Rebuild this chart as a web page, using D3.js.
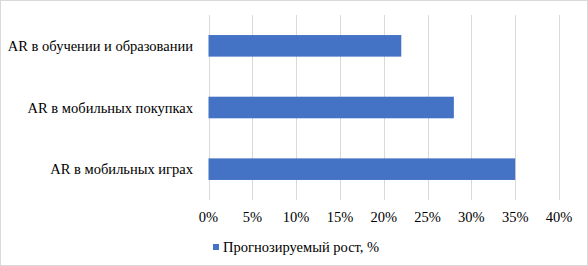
<!DOCTYPE html>
<html>
<head>
<meta charset="utf-8">
<script src="https://cdn.jsdelivr.net/npm/d3@7"></script>
<style>
  body { margin: 0; background: #fff; }
</style>
</head>
<body>
<div id="chart"></div>
<script>
var categories = ["AR в обучении и образовании", "AR в мобильных покупках", "AR в мобильных играх"];
var values = [22, 28, 35];
var ticks = [0, 5, 10, 15, 20, 25, 30, 35, 40];
var seriesName = "Прогнозируемый рост, %";

var W = 588, H = 266;
var margin = {top: 15, right: 29, bottom: 66, left: 208.5};
var font = "'Liberation Serif'";
var fs = "14.5px";

var svg = d3.select("#chart").append("svg")
    .attr("width", W)
    .attr("height", H);

// outer border
svg.append("rect")
    .attr("x", 0.5).attr("y", 0.5)
    .attr("width", W - 1).attr("height", H - 1)
    .attr("fill", "#fff")
    .attr("stroke", "#d9d9d9");

var x = d3.scaleLinear()
    .domain([0, 40])
    .range([margin.left, W - margin.right]);

var y = d3.scaleBand()
    .domain(categories)
    .range([margin.top, H - margin.bottom])
    .paddingInner(0.65)
    .paddingOuter(0.325);

// gridlines
svg.append("g").selectAll("line").data(ticks).enter()
    .append("line")
    .attr("x1", d => Math.round(x(d)) + 0.5)
    .attr("x2", d => Math.round(x(d)) + 0.5)
    .attr("y1", margin.top)
    .attr("y2", H - margin.bottom)
    .attr("stroke", "#d9d9d9")
    .attr("stroke-width", 1);

// bars
svg.append("g").selectAll("rect").data(values).enter()
    .append("rect")
    .attr("x", x(0))
    .attr("y", (d, i) => y(categories[i]))
    .attr("width", d => x(d) - x(0))
    .attr("height", y.bandwidth())
    .attr("fill", "#4472c4");

// category labels
svg.append("g").selectAll("text").data(categories).enter()
    .append("text")
    .attr("x", 193)
    .attr("y", d => y(d) + y.bandwidth() / 2)
    .attr("dy", "0.35em")
    .attr("text-anchor", "end")
    .style("font-family", font)
    .style("font-size", fs)
    .text(d => d);

// x tick labels
svg.append("g").selectAll("text").data(ticks).enter()
    .append("text")
    .attr("x", d => x(d))
    .attr("y", 217)
    .attr("dy", "0.35em")
    .attr("text-anchor", "middle")
    .style("font-family", font)
    .style("font-size", fs)
    .text(d => d + "%");

// legend
var lg = svg.append("g").attr("transform", "translate(213,244)");
lg.append("rect")
    .attr("width", 6).attr("height", 6)
    .attr("fill", "#4472c4");
lg.append("text")
    .attr("x", 10)
    .attr("y", 3)
    .attr("dy", "0.35em")
    .style("font-family", font)
    .style("font-size", fs)
    .text(seriesName);
</script>
</body>
</html>
